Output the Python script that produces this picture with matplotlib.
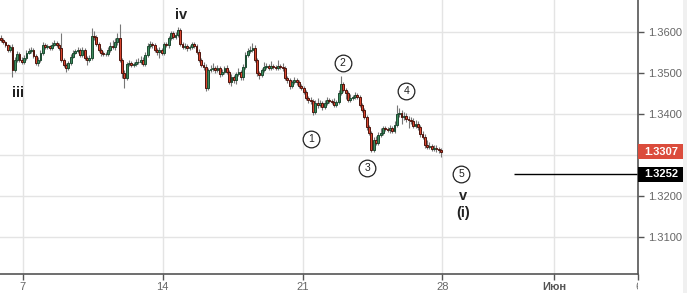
import numpy as np
import matplotlib.pyplot as plt
import matplotlib.transforms as mtransforms
from matplotlib.patches import Rectangle
from matplotlib.transforms import Bbox

plt.rcParams['font.family'] = ['Liberation Sans', 'DejaVu Sans']

# =============================================================
# DATA  (2H candles, 4 May - 25 May, weekends removed)
# =============================================================
first_open = 1.3585

closes = [
    1.3580, 1.3576, 1.3568, 1.3556, 1.3563, 1.3507, 1.3532, 1.3546, 1.3532, 1.3527,
    1.3536, 1.3549, 1.3554, 1.3556, 1.3541, 1.3524, 1.3532, 1.3549, 1.3568, 1.3563, 1.3566, 1.3561,
    1.3568, 1.3573, 1.3568, 1.3561, 1.3532, 1.3519, 1.3512, 1.3524, 1.3539, 1.3549, 1.3554, 1.3556,
    1.3544, 1.3556, 1.3536, 1.3532, 1.3536, 1.3590, 1.3588, 1.3571, 1.3556, 1.3549, 1.3546, 1.3546,
    1.3556, 1.3566, 1.3563, 1.3576, 1.3585, 1.3532, 1.3500, 1.3488, 1.3522, 1.3524, 1.3519, 1.3522,
    1.3527, 1.3527, 1.3532, 1.3522, 1.3544, 1.3566, 1.3571, 1.3568, 1.3556, 1.3551, 1.3556, 1.3549,
    1.3571, 1.3568, 1.3585, 1.3598, 1.3588, 1.3593, 1.3605, 1.3571, 1.3563, 1.3566, 1.3561, 1.3563,
    1.3571, 1.3566, 1.3551, 1.3532, 1.3519, 1.3515, 1.3463, 1.3507, 1.3510, 1.3512, 1.3507, 1.3512,
    1.3497, 1.3502, 1.3512, 1.3502, 1.3478, 1.3490, 1.3483, 1.3497, 1.3502, 1.3490, 1.3515, 1.3544,
    1.3554, 1.3556, 1.3561, 1.3532, 1.3500, 1.3495, 1.3507, 1.3515, 1.3517, 1.3512, 1.3517, 1.3515,
    1.3512, 1.3517, 1.3515, 1.3512, 1.3488, 1.3483, 1.3468, 1.3478, 1.3483, 1.3478, 1.3468, 1.3463,
    1.3454, 1.3439, 1.3434, 1.3432, 1.3405, 1.3427, 1.3422, 1.3427, 1.3417, 1.3427, 1.3434, 1.3432,
    1.3429, 1.3422, 1.3429, 1.3451, 1.3473, 1.3458, 1.3451, 1.3434, 1.3439, 1.3441, 1.3446, 1.3441,
    1.3422, 1.3410, 1.3393, 1.3368, 1.3354, 1.3312, 1.3336, 1.3329, 1.3349, 1.3354, 1.3366, 1.3363,
    1.3361, 1.3366, 1.3358, 1.3373, 1.3400, 1.3402, 1.3393, 1.3395, 1.3388, 1.3385, 1.3383, 1.3371,
    1.3375, 1.3368, 1.3351, 1.3344, 1.3324, 1.3319, 1.3322, 1.3314, 1.3317, 1.3314, 1.3312, 1.3307,
]

highs = [
    1.3593, 1.3585, 1.3578, 1.3571, 1.3568, 1.3571, 1.3539, 1.3554, 1.3551, 1.3539,
    1.3544, 1.3556, 1.3561, 1.3563, 1.3561, 1.3546, 1.3539, 1.3556, 1.3576, 1.3573, 1.3571, 1.3568,
    1.3576, 1.3580, 1.3578, 1.3573, 1.3598, 1.3536, 1.3524, 1.3529, 1.3546, 1.3556, 1.3558, 1.3563,
    1.3561, 1.3563, 1.3561, 1.3541, 1.3544, 1.3610, 1.3602, 1.3593, 1.3576, 1.3561, 1.3554, 1.3551,
    1.3563, 1.3576, 1.3580, 1.3585, 1.3598, 1.3619, 1.3536, 1.3507, 1.3527, 1.3532, 1.3529, 1.3527,
    1.3534, 1.3536, 1.3541, 1.3539, 1.3551, 1.3573, 1.3578, 1.3576, 1.3573, 1.3561, 1.3563, 1.3561,
    1.3576, 1.3576, 1.3590, 1.3602, 1.3602, 1.3600, 1.3612, 1.3610, 1.3576, 1.3573, 1.3571, 1.3568,
    1.3576, 1.3576, 1.3571, 1.3558, 1.3536, 1.3527, 1.3522, 1.3512, 1.3519, 1.3524, 1.3517, 1.3519,
    1.3517, 1.3510, 1.3517, 1.3519, 1.3507, 1.3497, 1.3495, 1.3502, 1.3512, 1.3507, 1.3522, 1.3551,
    1.3561, 1.3566, 1.3573, 1.3568, 1.3536, 1.3505, 1.3512, 1.3527, 1.3524, 1.3522, 1.3529, 1.3522,
    1.3519, 1.3532, 1.3522, 1.3524, 1.3517, 1.3493, 1.3488, 1.3483, 1.3490, 1.3488, 1.3483, 1.3473,
    1.3468, 1.3458, 1.3444, 1.3441, 1.3436, 1.3434, 1.3439, 1.3434, 1.3432, 1.3434, 1.3441, 1.3439,
    1.3436, 1.3439, 1.3434, 1.3458, 1.3493, 1.3478, 1.3463, 1.3456, 1.3449, 1.3446, 1.3454, 1.3451,
    1.3446, 1.3427, 1.3414, 1.3397, 1.3373, 1.3358, 1.3344, 1.3346, 1.3356, 1.3366, 1.3371, 1.3371,
    1.3368, 1.3373, 1.3371, 1.3383, 1.3422, 1.3414, 1.3410, 1.3405, 1.3402, 1.3395, 1.3393, 1.3390,
    1.3385, 1.3383, 1.3373, 1.3358, 1.3351, 1.3336, 1.3332, 1.3327, 1.3324, 1.3324, 1.3319, 1.3317,
]

lows = [
    1.3576, 1.3571, 1.3563, 1.3551, 1.3551, 1.3490, 1.3502, 1.3527, 1.3527, 1.3522,
    1.3522, 1.3532, 1.3546, 1.3549, 1.3536, 1.3519, 1.3517, 1.3527, 1.3544, 1.3558, 1.3558, 1.3556,
    1.3556, 1.3566, 1.3563, 1.3556, 1.3527, 1.3515, 1.3502, 1.3507, 1.3519, 1.3536, 1.3546, 1.3549,
    1.3539, 1.3539, 1.3532, 1.3519, 1.3527, 1.3532, 1.3580, 1.3566, 1.3551, 1.3541, 1.3541, 1.3541,
    1.3541, 1.3551, 1.3558, 1.3556, 1.3568, 1.3527, 1.3488, 1.3463, 1.3483, 1.3517, 1.3515, 1.3515,
    1.3517, 1.3522, 1.3522, 1.3517, 1.3517, 1.3539, 1.3561, 1.3561, 1.3551, 1.3544, 1.3536, 1.3544,
    1.3544, 1.3563, 1.3561, 1.3580, 1.3583, 1.3583, 1.3588, 1.3566, 1.3558, 1.3558, 1.3554, 1.3556,
    1.3558, 1.3561, 1.3546, 1.3527, 1.3515, 1.3507, 1.3456, 1.3458, 1.3502, 1.3505, 1.3500, 1.3502,
    1.3490, 1.3493, 1.3497, 1.3497, 1.3473, 1.3468, 1.3475, 1.3473, 1.3493, 1.3483, 1.3483, 1.3510,
    1.3539, 1.3549, 1.3551, 1.3527, 1.3493, 1.3485, 1.3490, 1.3502, 1.3510, 1.3507, 1.3507, 1.3510,
    1.3507, 1.3507, 1.3510, 1.3505, 1.3483, 1.3475, 1.3461, 1.3463, 1.3473, 1.3471, 1.3463, 1.3458,
    1.3449, 1.3434, 1.3427, 1.3424, 1.3397, 1.3400, 1.3414, 1.3417, 1.3410, 1.3412, 1.3422, 1.3427,
    1.3424, 1.3417, 1.3417, 1.3424, 1.3446, 1.3454, 1.3436, 1.3429, 1.3429, 1.3434, 1.3436, 1.3436,
    1.3417, 1.3405, 1.3388, 1.3361, 1.3349, 1.3307, 1.3307, 1.3324, 1.3324, 1.3344, 1.3349, 1.3358,
    1.3356, 1.3354, 1.3354, 1.3354, 1.3368, 1.3393, 1.3375, 1.3385, 1.3380, 1.3366, 1.3375, 1.3366,
    1.3366, 1.3361, 1.3344, 1.3339, 1.3317, 1.3314, 1.3314, 1.3310, 1.3310, 1.3307, 1.3305, 1.3295,
]

tick_days = [0, 5, 10, 15, 19, 22]
tick_labels = ['7', '14', '21', '28', 'Июн', '6']
price_ticks = [1.31, 1.32, 1.33, 1.34, 1.35, 1.36]
last_price = 1.3307
target_price = 1.3252

# =============================================================
# FIGURE
# =============================================================
fig = plt.figure(figsize=(6.87, 2.93), dpi=100)
ax = fig.add_axes([0, 19 / 293, 638 / 687, 274 / 293])

closes = np.array(closes)
highs = np.array(highs)
lows = np.array(lows)
opens = np.r_[first_open, closes[:-1]]
x = -1 + (np.arange(len(closes)) + 2.5) / 12   # trading-day units
up = closes >= opens

ax.vlines(x, lows, highs, color='#777777', lw=0.8, zorder=2)
body_lo = np.minimum(opens, closes)
body_h = np.maximum(np.abs(closes - opens), 0.00008)
ax.bar(x, body_h, bottom=body_lo, width=0.8 / 12,
       color=np.where(up, '#3e8c5e', '#d9462f'),
       edgecolor=np.where(up, '#1d4a31', '#4f140c'),
       linewidth=0.7, zorder=3)

ax.set_xlim(-23 / 28, 615 / 28)
ax.set_ylim(1.30089, 1.36782)

# axes / grid
ax.set_yticks(price_ticks)
# 1.3300 sits under the red last-price box, so it is not shown
ax.set_yticklabels(['' if p == 1.33 else f'{p:.4f}' for p in price_ticks])
ax.yaxis.tick_right()
ax.set_xticks(tick_days)
ax.set_xticklabels(tick_labels)
ax.grid(True, color='#e4e4e4', lw=1)
ax.set_axisbelow(True)
for s in ['top', 'left']:
    ax.spines[s].set_visible(False)
for s in ['right', 'bottom']:
    ax.spines[s].set_color('#555555')
    ax.spines[s].set_linewidth(1.2)
ax.tick_params(axis='both', colors='#555555', labelcolor='#666666',
               labelsize=8, length=4, width=1, direction='out')
ax.tick_params(axis='x', pad=2)
ax.tick_params(axis='y', pad=3)

xl = ax.get_xticklabels()
xl[4].set_fontweight('bold')
xl[4].set_color('#555555')
fig.canvas.draw()
clip = Bbox.from_extents(0, 0, 638, 293)
xl[5].set_clip_box(mtransforms.TransformedBbox(clip, mtransforms.IdentityTransform()))
xl[5].set_clip_on(True)

# =============================================================
# PRICE LABELS & TARGET LINE
# =============================================================
ax.hlines(target_price, 17.57, 615 / 28, color='black', lw=1, zorder=4)

trans = mtransforms.blended_transform_factory(ax.transAxes, ax.transData)
box_w = 46 / 638
box_h = 15 * 0.0002443
for price, col in [(last_price, '#db4c3c'), (target_price, '#000000')]:
    ax.add_patch(Rectangle((1.0, price - box_h / 2), box_w, box_h, transform=trans,
                           facecolor=col, edgecolor='none', clip_on=False, zorder=5))
    ax.text(1.0 + box_w / 2, price, f'{price:.4f}', transform=trans, ha='center',
            va='center', color='white', fontsize=8, fontweight='bold', zorder=6,
            clip_on=False)

fig.patches.append(Rectangle((683 / 687, 0), 4 / 687, 1, transform=fig.transFigure,
                             facecolor='#f0f0f0', edgecolor='none'))

# =============================================================
# WAVE LABELS
# =============================================================
for txt, (tx, ty) in {'iv': (5.64, 1.3642), 'iii': (-0.18, 1.3451),
                      'v': (15.75, 1.3199), '(i)': (15.75, 1.3158)}.items():
    ax.text(tx, ty, txt, ha='center', va='center', fontsize=10.5,
            fontweight='bold', color='#222222', zorder=6)

for num, (cx, cy) in {'1': (10.32, 1.3339), '2': (11.43, 1.3524), '3': (12.32, 1.3268),
                      '4': (13.71, 1.3456), '5': (15.68, 1.3253)}.items():
    ax.plot(cx, cy, 'o', ms=12, mfc='white', mec='#222222', mew=0.9, zorder=6)
    ax.text(cx, cy, num, ha='center', va='center', fontsize=7.5, color='#222222', zorder=7)

plt.savefig('out.png', dpi=100)
